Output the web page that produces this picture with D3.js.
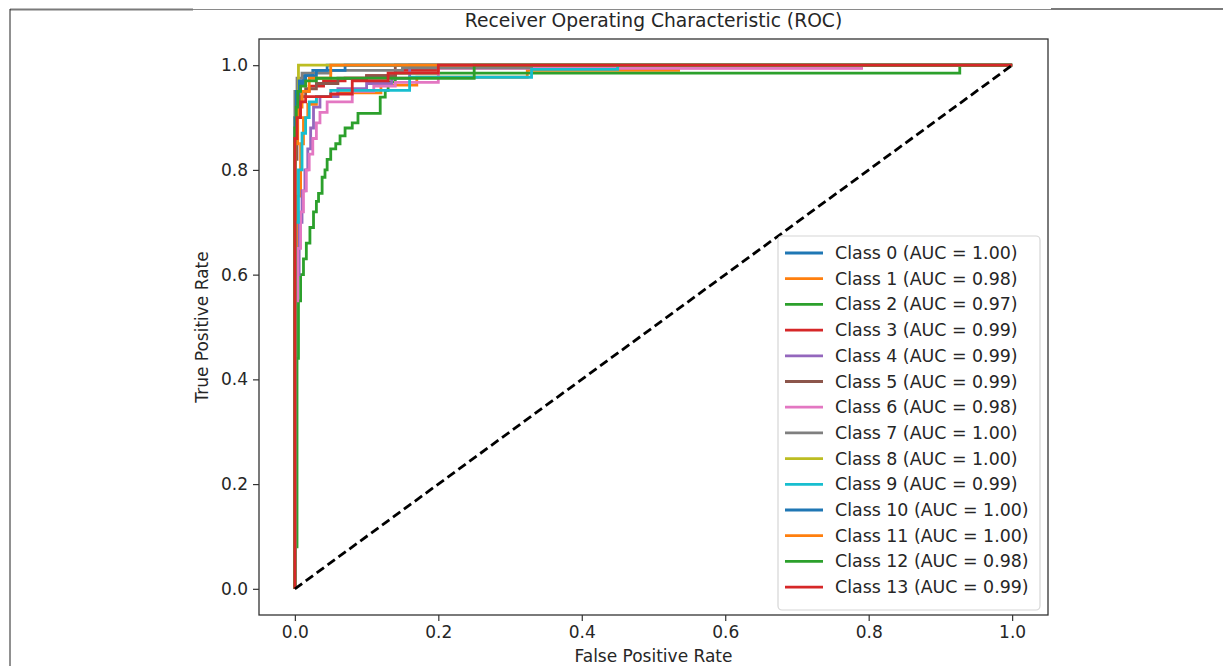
<!DOCTYPE html>
<html>
<head>
<meta charset="utf-8">
<script src="https://cdn.jsdelivr.net/npm/d3@7"></script>
<style>
  html, body { margin: 0; padding: 0; background: #fff; }
  svg { display: block; }
  text { font-family: "DejaVu Sans", sans-serif; fill: #262626; }
</style>
</head>
<body>
<svg id="chart" width="1223" height="666"></svg>
<script>
// ---------------- data ----------------
const classNames = ["Class 0","Class 1","Class 2","Class 3","Class 4","Class 5","Class 6",
                    "Class 7","Class 8","Class 9","Class 10","Class 11","Class 12","Class 13"];
const aucValues = ["1.00","0.98","0.97","0.99","0.99","0.99","0.98","1.00","1.00","0.99","1.00","1.00","0.98","0.99"];
const classColors = ["#1f77b4","#ff7f0e","#2ca02c","#d62728","#9467bd","#8c564b","#e377c2",
                     "#7f7f7f","#bcbd22","#17becf","#1f77b4","#ff7f0e","#2ca02c","#d62728"];

// corner points of each ROC step curve (false positive rate / true positive rate)
const fprByClass = [
  [0,0,0.003,0.006,0.012,0.025,0.045,1],
  [0,0,0.004,0.008,0.012,0.018,0.03,0.06,0.12,0.17,0.324,0.535,1],
  [0,0,0.003,0.005,0.008,0.012,0.016,0.021,0.026,0.03,0.033,0.038,0.042,0.045,0.05,0.057,0.063,0.07,0.08,0.088,0.119,0.126,0.13,0.14,0.927,1],
  [0,0,0.002,0.005,0.01,0.02,0.04,0.07,0.1,0.14,0.2,0.79,1],
  [0,0,0.006,0.01,0.014,0.018,0.022,0.026,0.035,0.06,0.1,0.135,0.16,1],
  [0,0,0.003,0.008,0.015,0.03,0.06,0.1,0.14,1],
  [0,0,0.004,0.008,0.012,0.016,0.02,0.025,0.03,0.035,0.045,0.08,0.11,0.14,0.2,0.79,1],
  [0,0,0.003,0.01,0.05,0.15,0.33,1],
  [0,0,0.002,0.005,1],
  [0,0,0.005,0.01,0.015,0.02,0.03,0.05,0.16,0.33,0.45,1],
  [0,0,0.002,0.006,0.015,0.03,0.07,1],
  [0,0,0.004,0.01,0.02,0.05,1],
  [0,0,0.002,0.004,0.008,0.015,0.03,0.25,1],
  [0,0,0.003,0.008,0.015,0.05,0.08,0.13,0.2,1]
];
const tprByClass = [
  [0,0.86,0.93,0.965,0.98,0.99,1,1],
  [0,0.6,0.75,0.85,0.9,0.925,0.94,0.947,0.962,0.977,0.99,1,1],
  [0,0.08,0.44,0.55,0.6,0.63,0.66,0.69,0.72,0.74,0.755,0.786,0.8,0.82,0.84,0.85,0.865,0.88,0.89,0.908,0.939,0.952,0.968,0.985,1,1],
  [0,0.85,0.9,0.93,0.95,0.96,0.97,0.975,0.98,0.99,0.995,1,1],
  [0,0.6,0.7,0.76,0.8,0.84,0.88,0.92,0.94,0.955,0.965,0.975,1,1],
  [0,0.82,0.9,0.94,0.955,0.965,0.975,0.98,1,1],
  [0,0.55,0.65,0.72,0.76,0.8,0.83,0.86,0.89,0.91,0.93,0.95,0.96,0.967,0.994,1,1],
  [0,0.95,0.975,0.985,0.99,0.995,1,1],
  [0,0.9,0.95,1,1],
  [0,0.7,0.8,0.87,0.9,0.93,0.94,0.952,0.977,0.992,1,1],
  [0,0.9,0.95,0.97,0.98,0.99,1,1],
  [0,0.85,0.92,0.95,0.975,1,1],
  [0,0.88,0.92,0.95,0.96,0.97,0.975,1,1],
  [0,0.86,0.9,0.93,0.94,0.945,0.97,0.985,1,1]
];
const tickValues = [0, 0.2, 0.4, 0.6, 0.8, 1.0];
const diagonal = [[0,0],[1,1]];
const titleText = "Receiver Operating Characteristic (ROC)";
const xLabelText = "False Positive Rate";
const yLabelText = "True Positive Rate";

// ---------------- layout ----------------
const svg = d3.select("#chart");
const box = {left: 259, right: 1048, top: 39, bottom: 615};

const x = d3.scaleLinear().domain([-0.05, 1.05]).range([box.left, box.right]);
const y = d3.scaleLinear().domain([-0.05, 1.05]).range([box.bottom, box.top]);

// outer frame of the screenshot
svg.append("line").attr("x1", 10).attr("x2", 1223).attr("y1", 9.5).attr("y2", 9.5)
  .attr("stroke", "#8a8a8a").attr("stroke-width", 1);
svg.append("line").attr("x1", 10).attr("x2", 193).attr("y1", 9.5).attr("y2", 9.5)
  .attr("stroke", "#7a7a7a").attr("stroke-width", 2);
svg.append("line").attr("x1", 1051).attr("x2", 1223).attr("y1", 9).attr("y2", 9)
  .attr("stroke", "#7a7a7a").attr("stroke-width", 2);
svg.append("line").attr("x1", 10).attr("x2", 10).attr("y1", 9).attr("y2", 666)
  .attr("stroke", "#222").attr("stroke-width", 1);

// clip
svg.append("clipPath").attr("id", "plotclip").append("rect")
  .attr("x", box.left).attr("y", box.top)
  .attr("width", box.right - box.left).attr("height", box.bottom - box.top);

const plot = svg.append("g").attr("clip-path", "url(#plotclip)");

const line = d3.line().x(d => x(d[0])).y(d => y(d[1])).curve(d3.curveStepAfter);

classNames.forEach((name, i) => {
  const pts = fprByClass[i].map((f, j) => [f, tprByClass[i][j]]);
  plot.append("path").datum(pts)
    .attr("d", line)
    .attr("fill", "none")
    .attr("stroke", classColors[i])
    .attr("stroke-width", 2.8)
    .attr("stroke-linejoin", "miter");
});

plot.append("path").datum(diagonal)
  .attr("d", d3.line().x(d => x(d[0])).y(d => y(d[1])))
  .attr("fill", "none")
  .attr("stroke", "#000")
  .attr("stroke-width", 2.8)
  .attr("stroke-dasharray", "9,4.5");

// axes
const fmt = d3.format(".1f");
const xAxis = svg.append("g").attr("transform", `translate(0,${box.bottom})`)
  .call(d3.axisBottom(x).tickValues(tickValues).tickFormat(fmt).tickSize(6).tickPadding(5));
const yAxis = svg.append("g").attr("transform", `translate(${box.left},0)`)
  .call(d3.axisLeft(y).tickValues(tickValues).tickFormat(fmt).tickSize(6).tickPadding(5));
[xAxis, yAxis].forEach(a => {
  a.select(".domain").remove();
  a.selectAll(".tick line").attr("stroke", "#333").attr("stroke-width", 1.2);
  a.selectAll(".tick text").style("font-family", "DejaVu Sans").style("font-size", "17px").attr("fill", "#333");
});

// spines
svg.append("rect").attr("x", box.left).attr("y", box.top)
  .attr("width", box.right - box.left).attr("height", box.bottom - box.top)
  .attr("fill", "none").attr("stroke", "#333").attr("stroke-width", 1.3);

// titles
svg.append("text").attr("x", (box.left + box.right) / 2).attr("y", 27)
  .attr("text-anchor", "middle").style("font-size", "18.7px").attr("fill", "#333").text(titleText);
svg.append("text").attr("x", (box.left + box.right) / 2).attr("y", 662)
  .attr("text-anchor", "middle").style("font-size", "17px").attr("fill", "#333").text(xLabelText);
svg.append("text").attr("transform", `translate(208,${(box.top + box.bottom) / 2}) rotate(-90)`)
  .attr("text-anchor", "middle").style("font-size", "17px").attr("fill", "#333").text(yLabelText);

// legend
const leg = {x: 778, y: 236, w: 262, h: 374, row: 25.7, first: 253};
svg.append("rect").attr("x", leg.x).attr("y", leg.y).attr("width", leg.w).attr("height", leg.h)
  .attr("rx", 4).attr("fill", "#fff").attr("fill-opacity", 0.85)
  .attr("stroke", "#d6d6d6").attr("stroke-width", 1.2);
const items = svg.append("g").selectAll("g").data(classNames).join("g")
  .attr("transform", (d, i) => `translate(${leg.x},${leg.first + i * leg.row})`);
items.append("line").attr("x1", 7).attr("x2", 45).attr("y1", 0).attr("y2", 0)
  .attr("stroke", (d, i) => classColors[i]).attr("stroke-width", 2.8);
items.append("text").attr("x", 57).attr("y", 0).attr("dy", "0.35em")
  .style("font-size", "17.4px").attr("fill", "#333")
  .text((d, i) => `${d} (AUC = ${aucValues[i]})`);
</script>
</body>
</html>
